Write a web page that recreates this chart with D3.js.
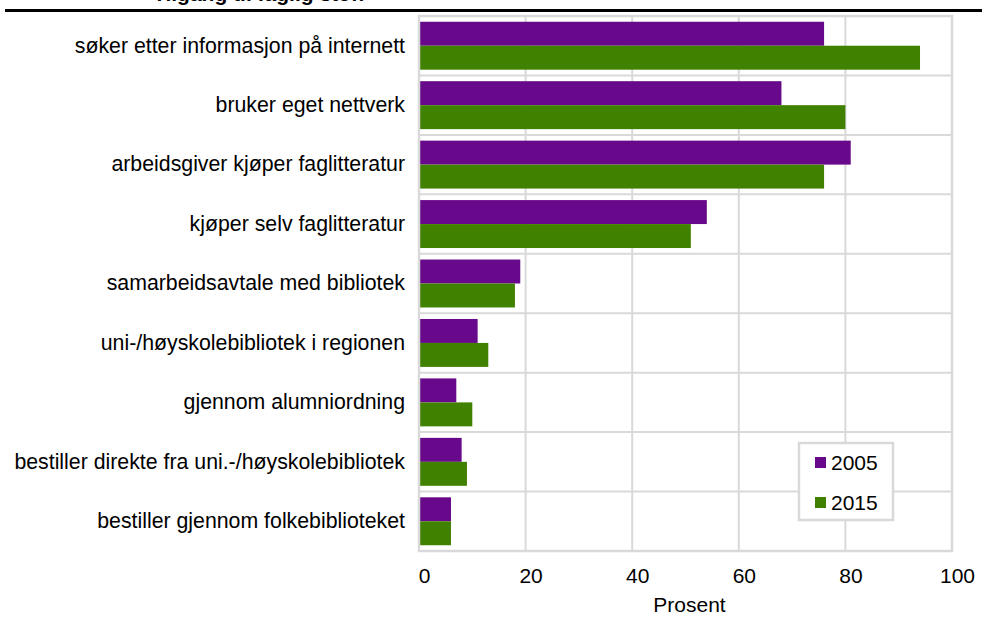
<!DOCTYPE html>
<html>
<head>
<meta charset="utf-8">
<script src="https://cdn.jsdelivr.net/npm/d3@7"></script>
<style>
  body { margin: 0; background: #fff; }
  svg { display: block; font-family: "Liberation Sans", Arial, sans-serif; }
</style>
</head>
<body>
<svg id="chart"></svg>
<script>
var categories = [
  "søker etter informasjon på internett",
  "bruker eget nettverk",
  "arbeidsgiver kjøper faglitteratur",
  "kjøper selv faglitteratur",
  "samarbeidsavtale med bibliotek",
  "uni-/høyskolebibliotek i regionen",
  "gjennom alumniordning",
  "bestiller direkte fra uni.-/høyskolebibliotek",
  "bestiller gjennom folkebiblioteket"
];
var series = ["2005", "2015"];
var values2005 = [76, 68, 81, 54, 19, 11, 7, 8, 6];
var values2015 = [94, 80, 76, 51, 18, 13, 10, 9, 6];
var xTicks = [0, 20, 40, 60, 80, 100];
var colors = ["#68088a", "#408200"];

var W = 982, H = 617;
var margin = {top: 16, right: 30, bottom: 66, left: 419};
var width = W - margin.left - margin.right;
var height = H - margin.top - margin.bottom;

var root = d3.select('#chart')
  .attr('width', W)
  .attr('height', H);

// title sits above the top edge, only its descenders show
root.append('text')
  .attr('x', 153)
  .attr('y', 0.5)
  .attr('font-size', 21)
  .attr('font-weight', 'bold')
  .text('Tilgang til faglig stoff');

root.append('line')
  .attr('x1', 5).attr('x2', W)
  .attr('y1', 10.5).attr('y2', 10.5)
  .attr('stroke', '#000')
  .attr('stroke-width', 3);

var svg = root.append('g')
  .attr('transform', 'translate(' + margin.left + ',' + margin.top + ')');

var x = d3.scaleLinear()
  .domain([0, 100])
  .range([0, width]);

var y = d3.scaleBand()
  .domain(categories)
  .range([0, height])
  .padding(0);

var y1 = d3.scaleBand()
  .domain(series)
  .range([0, y.bandwidth()])
  .paddingInner(0)
  .paddingOuter(0.24);

var data = categories.map(function(c, i) {
  return {category: c, values: [values2005[i], values2015[i]]};
});

// grid
svg.append('g')
  .selectAll('line')
  .data(xTicks)
  .enter()
  .append('line')
  .attr('x1', function(d) { return x(d); })
  .attr('x2', function(d) { return x(d); })
  .attr('y1', 0)
  .attr('y2', height)
  .attr('stroke', '#d9d9d9')
  .attr('stroke-width', 2);

svg.append('g')
  .selectAll('line')
  .data(categories.slice(1))
  .enter()
  .append('line')
  .attr('x1', 0)
  .attr('x2', width)
  .attr('y1', function(d) { return y(d); })
  .attr('y2', function(d) { return y(d); })
  .attr('stroke', '#d9d9d9')
  .attr('stroke-width', 2);

// bars
var groups = svg.selectAll('.group')
  .data(data)
  .enter()
  .append('g')
  .attr('class', 'group')
  .attr('transform', function(d) { return 'translate(0,' + y(d.category) + ')'; });

groups.selectAll('rect')
  .data(function(d) { return d.values.map(function(v, i) { return {key: series[i], value: v}; }); })
  .enter()
  .append('rect')
  .attr('x', x(0))
  .attr('y', function(d) { return y1(d.key); })
  .attr('width', function(d) { return x(d.value) - x(0); })
  .attr('height', y1.bandwidth())
  .attr('fill', function(d, i) { return colors[i]; });

// frame
svg.append('rect')
  .attr('x', 0)
  .attr('y', 0)
  .attr('width', width)
  .attr('height', height)
  .attr('fill', 'none')
  .attr('stroke', '#d9d9d9')
  .attr('stroke-width', 2.5);

// axes
var xAxis = svg.append('g')
  .attr('transform', 'translate(0,' + height + ')')
  .call(d3.axisBottom(x).tickValues(xTicks).tickSize(0).tickPadding(17));
xAxis.select('.domain').remove();
xAxis.selectAll('text')
  .attr('font-size', 21)
  .attr('font-family', '"Liberation Sans", Arial, sans-serif')
  .attr('fill', '#000')
  .attr('dx', 5);

var yAxis = svg.append('g')
  .call(d3.axisLeft(y).tickSize(0).tickPadding(14));
yAxis.select('.domain').remove();
yAxis.selectAll('text')
  .attr('font-size', 21.3)
  .attr('font-family', '"Liberation Sans", Arial, sans-serif')
  .attr('fill', '#000');

svg.append('text')
  .attr('x', width / 2 + 4)
  .attr('y', height + 61)
  .attr('text-anchor', 'middle')
  .attr('font-size', 21)
  .text('Prosent');

// legend
var legend = svg.append('g')
  .attr('transform', 'translate(' + (799 - margin.left) + ',' + (443 - margin.top) + ')');

legend.append('rect')
  .attr('width', 94)
  .attr('height', 77)
  .attr('fill', '#fff')
  .attr('stroke', '#d9d9d9')
  .attr('stroke-width', 2.5);

var items = legend.selectAll('.item')
  .data(series)
  .enter()
  .append('g')
  .attr('class', 'item')
  .attr('transform', function(d, i) { return 'translate(16,' + (14 + i * 40) + ')'; });

items.append('rect')
  .attr('width', 11)
  .attr('height', 11)
  .attr('fill', function(d, i) { return colors[i]; });

items.append('text')
  .attr('x', 16)
  .attr('y', 13)
  .attr('font-size', 21)
  .text(function(d) { return d; });
</script>
</body>
</html>
